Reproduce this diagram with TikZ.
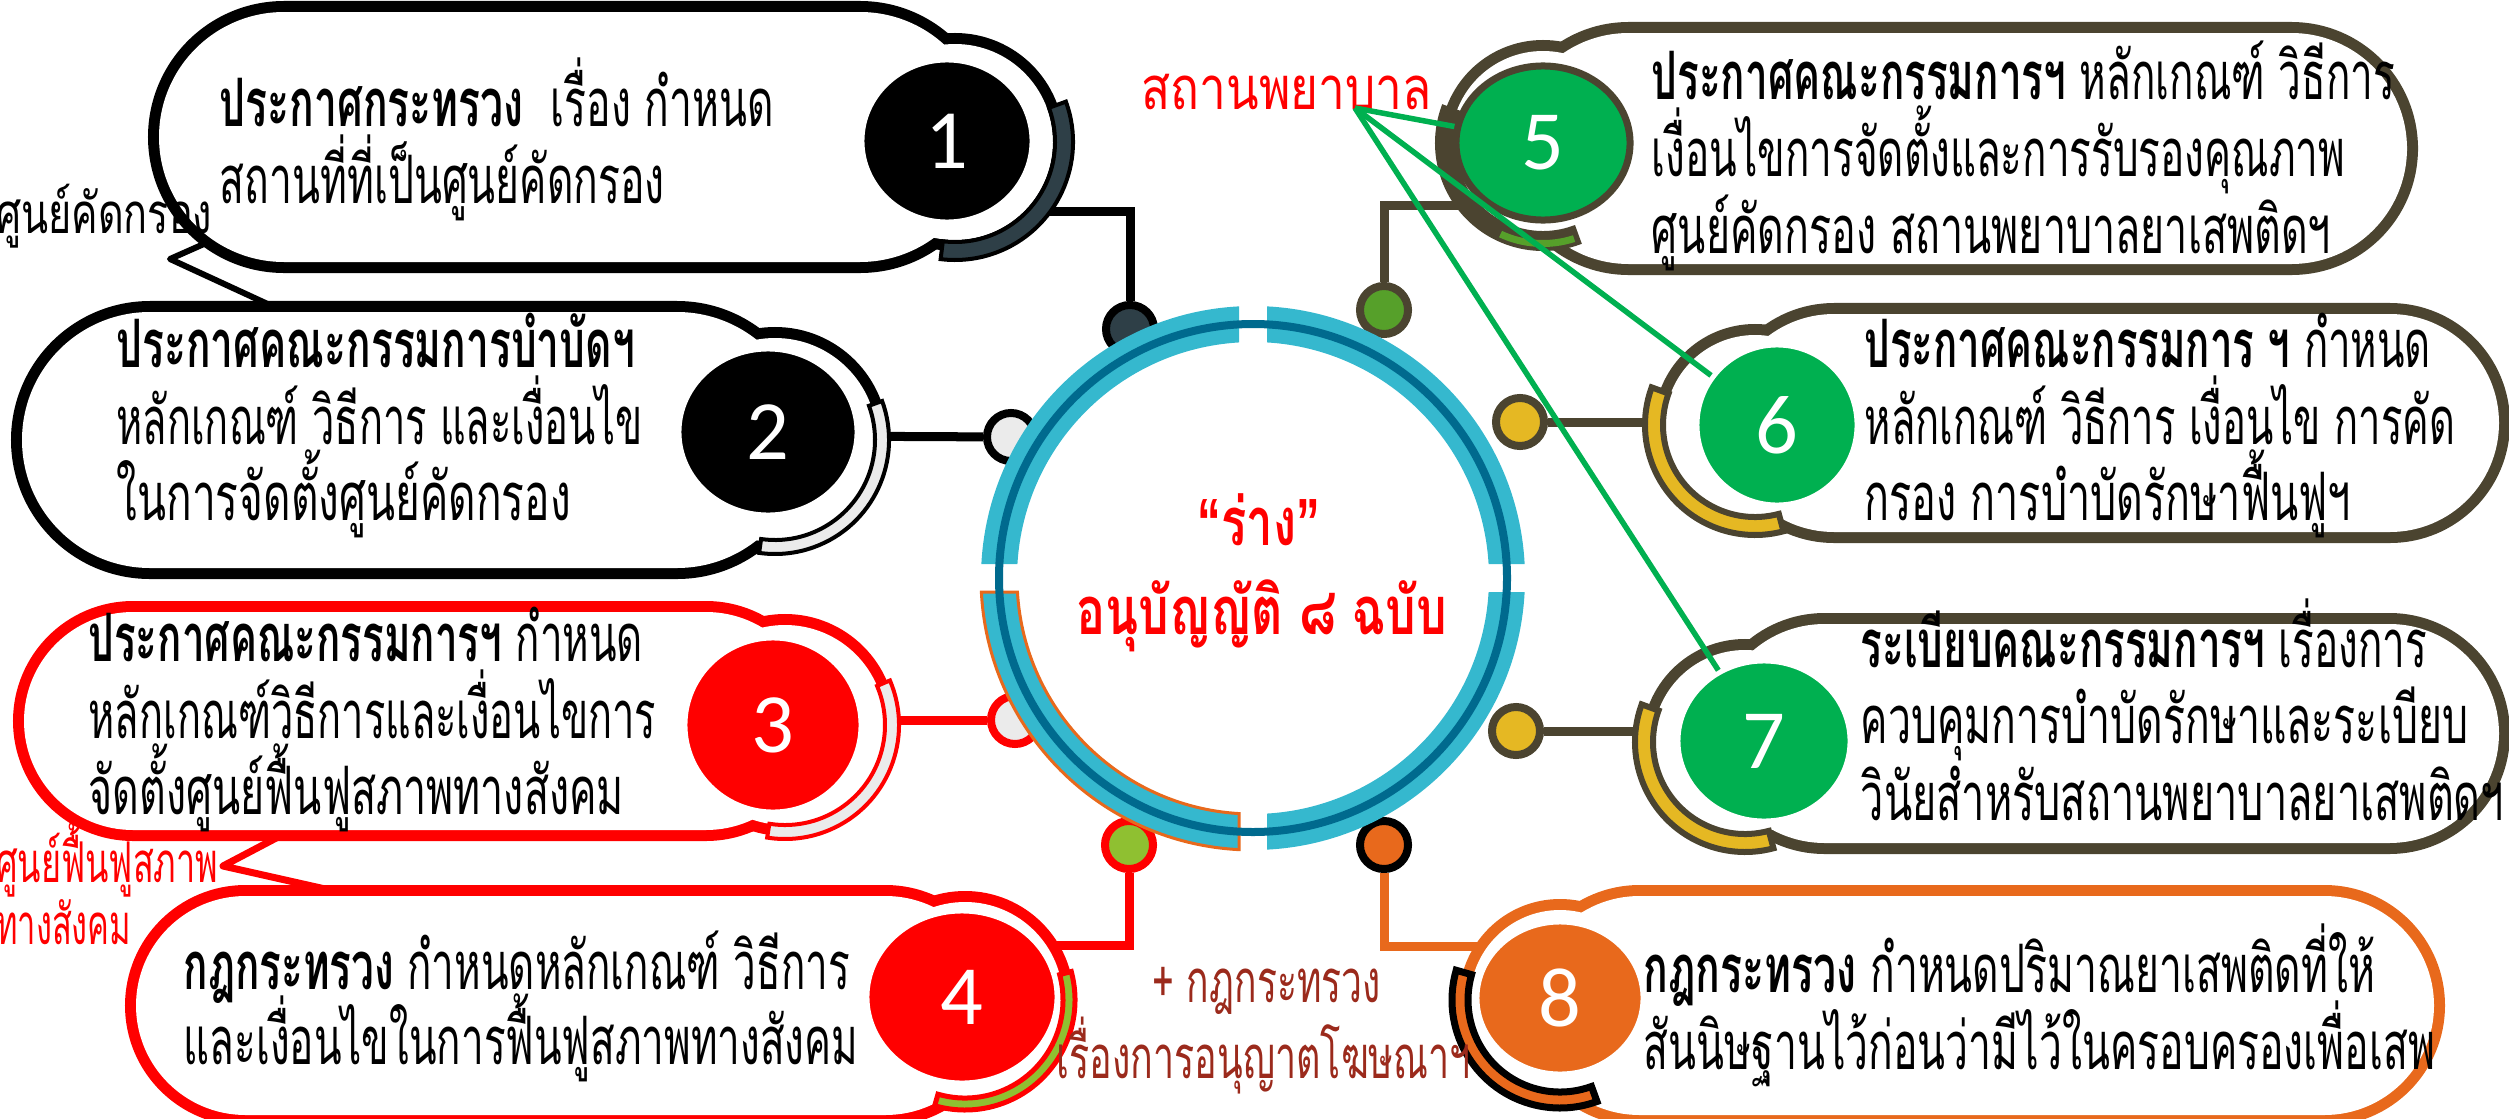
\documentclass[tikz,border=0pt]{standalone}
\usepackage{fontspec}
\usepackage{graphicx}
\usetikzlibrary{shapes.geometric,calc}
\newfontfamily\thai[Script=Thai]{Loma}
\newfontfamily\numf{Carlito}
\newfontfamily\qf{Liberation Sans}
\definecolor{lblue}{HTML}{35B8CE}
\definecolor{dblue}{HTML}{006A8E}
\definecolor{orng}{HTML}{E8691C}
\definecolor{olv}{HTML}{4B4430}
\definecolor{grn}{HTML}{00B050}
\definecolor{slate}{HTML}{2E3F47}
\definecolor{goldc}{HTML}{E5B823}
\definecolor{limec}{HTML}{8FC031}
\definecolor{leaf}{HTML}{56A02A}
\definecolor{lgray}{HTML}{EBEBEB}
\definecolor{dred}{HTML}{9B2A1C}
\tikzset{
  txt/.style={anchor=base west, inner sep=0pt, font=\thai\fontsize{19}{22}\selectfont},
  lblr/.style={anchor=base east, inner sep=0pt, font=\thai\fontsize{16}{19}\selectfont},
  lbll/.style={anchor=base west, inner sep=0pt, font=\thai\fontsize{17}{20}\selectfont},
  badge/.style={ellipse, inner sep=0pt, text=white, draw=white, line width=0.05cm, font=\numf\fontsize{24}{24}\selectfont},
  dotnode/.style={circle, inner sep=0pt, minimum size=0.48cm, line width=0.08cm},
  conn/.style={line width=0.09cm},
  greenline/.style={grn, line width=0.055cm},
}
\newcommand\capsule[9]{%
 \draw[#1,line width=0.22cm,rounded corners=#6] (#2,#3) rectangle (#4,#5);
 \draw[#1,line width=0.22cm] (#7,#8) circle (#9);
 \fill[white,rounded corners=#6] (#2,#3) rectangle (#4,#5);
 \fill[white] (#7,#8) circle (#9);}
\newcommand\accarc[7]{\filldraw[#7] ($(#1,#2)+({-(#5)}:#4)$) arc[start angle={-(#5)},end angle={-(#6)},radius=#4] -- ($(#1,#2)+({-(#6)}:#3)$) arc[start angle={-(#6)},end angle={-(#5)},radius=#3] -- cycle;}
\newcommand\quadr[5]{\filldraw[#5] ($(ctr)+(#1:272)$) arc[start angle=#1,end angle=#2,radius=272] -- ($(ctr)+(#3:236)$) arc[start angle=#3,end angle=#4,radius=236] -- cycle;}
\newcommand\tl[5]{\node[txt] (#1) at (#2,#3) {\resizebox{#4cm}{\height}{#5}};}
\begin{document}
\begin{tikzpicture}[x=0.01cm,y=-0.01cm]
\useasboundingbox (0,0) rectangle (2509,1118);
\clip (0,0) rectangle (2509,1118);
% connector start points
\coordinate (k1) at (990,211);
\coordinate (k2) at (800,436);
\coordinate (k3) at (800,720);
\coordinate (k4) at (1000,945);
\coordinate (k5) at (1520,205);
\coordinate (k6) at (1700,422);
\coordinate (k7) at (1700,731);
\coordinate (k8) at (1530,946);
% dots
\node[dotnode, fill=slate, draw=black] (d1) at (1130,329) {};
\node[dotnode, fill=lgray, draw=black] (d2) at (1011,437) {};
\node[dotnode, fill=lgray, draw=red] (d3) at (1015,720) {};
\node[dotnode, fill=limec, draw=red] (d4) at (1129,845) {};
\node[dotnode, fill=leaf, draw=olv] (d5) at (1384,310) {};
\node[dotnode, fill=goldc, draw=olv] (d6) at (1520,422) {};
\node[dotnode, fill=goldc, draw=olv] (d7) at (1516,731) {};
\node[dotnode, fill=orng, draw=black] (d8) at (1384,845) {};
% connectors
\draw[conn, black] (k1) -| (d1);
\draw[conn, black] (k2) -- (d2);
\draw[conn, red] (k3) -- (d3);
\draw[conn, red] (k4) -| (d4);
\draw[conn, olv] (k5) -| (d5);
\draw[conn, olv] (k6) -- (d6);
\draw[conn, olv] (k7) -- (d7);
\draw[conn, orng] (k8) -| (d8);
% central ring
\coordinate (ctr) at (1253,578);
\quadr{-87.05}{-2.95}{-3.40}{-86.60}{fill=lblue,draw=none}
\quadr{2.95}{87.05}{86.60}{3.40}{fill=lblue,draw=none}
\quadr{92.95}{177.05}{176.60}{93.40}{fill=lblue,draw=orng,line width=0.03cm}
\quadr{182.95}{267.05}{266.60}{183.40}{fill=lblue,draw=none}
\draw[dblue, line width=0.08cm] (ctr) circle (254);
% callouts
\coordinate (ca) at (298,318);
\coordinate (cb) at (170,259);
\coordinate (cc) at (222,236);
\draw[line width=0.06cm, line join=round] (ca) -- (cb) -- (cc);
\coordinate (cd) at (299,826);
\coordinate (ce) at (223,866);
\coordinate (cf) at (383,902);
\draw[red, line width=0.07cm, line join=round] (cd) -- (ce) -- (cf);
% boxes
\capsule{black}{159}{12}{985}{262}{1.25cm}{955}{142}{98}
\capsule{black}{22}{312}{805}{568}{1.28cm}{775}{440}{102}
\capsule{red}{24}{612}{815}{830}{1.09cm}{785}{725}{100}
\capsule{red}{136}{896}{995}{1115}{1.095cm}{965}{1000}{98}
\capsule{olv}{1513}{33}{2407}{264}{1.155cm}{1543}{143}{92}
\capsule{olv}{1725}{314}{2499}{532}{1.09cm}{1755}{425}{90}
\capsule{olv}{1715}{624}{2499}{843}{1.095cm}{1745}{742}{92}
\capsule{orng}{1530}{896}{2434}{1115}{1.095cm}{1560}{1000}{90}
% accents
\accarc{955}{142}{100}{118}{20}{-97}{fill=slate,draw=black,line width=0.04cm}
\accarc{775}{440}{100}{114}{20}{-98}{fill=lgray,draw=black,line width=0.04cm}
\accarc{785}{725}{100}{114}{23}{-99}{fill=lgray,draw=red,line width=0.04cm}
\accarc{965}{1000}{98}{110}{15}{-106}{fill=limec,draw=red,line width=0.05cm}
\accarc{1543}{143}{90}{106}{160}{290}{fill=olv,draw=olv,line width=0.04cm}
\accarc{1543}{143}{97}{104}{245}{288}{fill=leaf,draw=none}
\accarc{1755}{425}{92}{110}{160}{285}{fill=goldc,draw=olv,line width=0.06cm}
\accarc{1745}{742}{92}{110}{160}{285}{fill=goldc,draw=olv,line width=0.06cm}
\accarc{1560}{1000}{92}{108}{164}{290}{fill=orng,draw=black,line width=0.07cm}
% badges
\node[badge, fill=black, minimum width=1.70cm, minimum height=1.62cm] (b1) at (947,141) {1};
\node[badge, fill=black, minimum width=1.78cm, minimum height=1.66cm] (b2) at (768,432) {2};
\node[badge, fill=red, minimum width=1.76cm, minimum height=1.74cm] (b3) at (773,725) {3};
\node[badge, fill=red, minimum width=1.90cm, minimum height=1.72cm] (b4) at (962,997) {4};
\node[badge, fill=grn, draw=olv, line width=0.07cm, minimum width=1.74cm, minimum height=1.54cm] (b5) at (1543,143) {5};
\node[badge, fill=grn, minimum width=1.60cm, minimum height=1.60cm] (b6) at (1777,425) {6};
\node[badge, fill=grn, minimum width=1.72cm, minimum height=1.60cm] (b7) at (1764,741) {7};
\node[badge, fill=orng, minimum width=1.66cm, minimum height=1.52cm] (b8) at (1560,998) {8};
% box texts
\tl{t1a}{219}{126}{5.54}{\textbf{ประกาศกระทรวง}\ \ เรื่อง กำหนด}
\tl{t1b}{219}{203}{4.45}{สถานที่ที่เป็นศูนย์คัดกรอง}
\tl{t2a}{116}{367}{5.18}{\textbf{ประกาศคณะกรรมการบำบัดฯ}}
\tl{t2b}{116}{444}{5.26}{หลักเกณฑ์ วิธีการ และเงื่อนไข}
\tl{t2c}{116}{520}{4.54}{ในการจัดตั้งศูนย์คัดกรอง}
\tl{t3a}{88}{661}{5.54}{\textbf{ประกาศคณะกรรมการฯ} กำหนด}
\tl{t3b}{88}{738}{5.67}{หลักเกณฑ์วิธีการและเงื่อนไขการ}
\tl{t3c}{88}{814}{5.35}{จัดตั้งศูนย์ฟื้นฟูสภาพทางสังคม}
\tl{t4a}{183}{989}{6.66}{\textbf{กฎกระทรวง} กำหนดหลักเกณฑ์ วิธีการ}
\tl{t4b}{183}{1064}{6.74}{และเงื่อนไขในการฟื้นฟูสภาพทางสังคม}
\tl{t5a}{1651}{100}{7.43}{\textbf{ประกาศคณะกรรมการฯ} หลักเกณฑ์ วิธีการ}
\tl{t5b}{1651}{176}{6.93}{เงื่อนไขการจัดตั้งและการรับรองคุณภาพ}
\tl{t5c}{1651}{253}{6.79}{ศูนย์คัดกรอง สถานพยาบาลยาเสพติดฯ}
\tl{t6a}{1864}{367}{5.66}{\textbf{ประกาศคณะกรรมการ ฯ} กำหนด}
\tl{t6b}{1864}{444}{5.90}{หลักเกณฑ์ วิธีการ เงื่อนไข การคัด}
\tl{t6c}{1864}{520}{4.86}{กรอง การบำบัดรักษาฟื้นฟูฯ}
\tl{t7a}{1860}{667}{5.66}{\textbf{ระเบียบคณะกรรมการฯ} เรื่องการ}
\tl{t7b}{1860}{743}{6.07}{ควบคุมการบำบัดรักษาและระเบียบ}
\tl{t7c}{1860}{820}{6.43}{วินัยสำหรับสถานพยาบาลยาเสพติดฯ}
\tl{t8a}{1643}{992}{7.31}{\textbf{กฎกระทรวง} กำหนดปริมาณยาเสพติดที่ให้}
\tl{t8b}{1643}{1069}{7.91}{สันนิษฐานไว้ก่อนว่ามีไว้ในครอบครองเพื่อเสพ}
% side labels
\node[lblr] (l1) at (213,233) {\resizebox{2.16cm}{\height}{ศูนย์คัดกรอง}};
\node[lblr, text=red] (l2) at (219,882) {\resizebox{2.22cm}{\height}{ศูนย์ฟื้นฟูสภาพ}};
\node[lblr, text=red] (l3) at (132,944) {\resizebox{1.35cm}{\height}{ทางสังคม}};
\node[lbll, text=red] (l4) at (1141,109) {\resizebox{2.90cm}{\height}{สถานพยาบาล}};
\node[lbll, text=dred] (l5) at (1152,1002) {\resizebox{2.28cm}{\height}{+ กฎกระทรวง}};
\node[lbll, text=dred] (l6) at (1056,1078) {\resizebox{4.14cm}{\height}{เรื่องการอนุญาตโฆษณาฯ}};
% centre title
\node[lbll, text=red, font=\thai\bfseries\fontsize{19}{22}\selectfont] (c1) at (1197,545) {\resizebox{1.22cm}{\height}{{\qf“}ร่าง{\qf”}}};
\node[lbll, text=red, font=\thai\bfseries\fontsize{19}{22}\selectfont] (c2) at (1076,634) {\resizebox{3.70cm}{\height}{อนุบัญญัติ ๘ ฉบับ}};
% green pointer lines
\coordinate (g0) at (1355,108);
\draw[greenline] (g0) -- (b5);
\draw[greenline] (g0) -- (b6);
\draw[greenline] (g0) -- (b7);
\end{tikzpicture}
\end{document}
